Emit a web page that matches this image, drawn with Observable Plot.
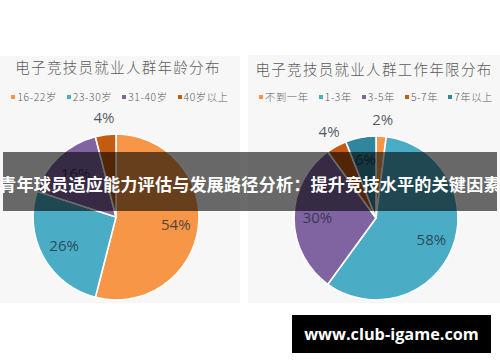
<!DOCTYPE html>
<html><head><meta charset="utf-8">
<script src="https://cdn.jsdelivr.net/npm/d3@7"></script>
<script src="https://cdn.jsdelivr.net/npm/@observablehq/plot@0.6"></script>
<style>
html,body{margin:0;padding:0;background:#fff;}
#page{position:relative;width:500px;height:362px;overflow:hidden;font-family:"Noto Sans CJK SC","Noto Sans",sans-serif;}
.panel{position:absolute;background:#f7f7f7;}
.title{position:absolute;text-align:center;font-size:14.5px;letter-spacing:1.3px;color:#5c5c5c;font-weight:300;line-height:20px;white-space:nowrap;}
.legend{position:absolute;display:flex;justify-content:center;align-items:center;gap:10px;font-size:10.3px;letter-spacing:0.6px;color:#5c5c5c;line-height:14px;white-space:nowrap;font-weight:300;}
.legend .sw{display:inline-block;width:4px;height:4px;margin-right:2px;vertical-align:middle;position:relative;top:-1px;}
.pie{position:absolute;}
.pie svg{overflow:visible;}
#banner{position:absolute;left:3px;top:152px;width:494px;height:59px;background:rgba(0,0,0,0.58);color:#fff;font-weight:700;font-size:17.1px;letter-spacing:0.2px;display:flex;align-items:center;justify-content:center;padding-top:4px;box-sizing:border-box;white-space:nowrap;font-family:"Noto Sans CJK SC",sans-serif;}
#mark{position:absolute;left:292px;top:315px;width:199px;height:38px;background:#000;color:#fff;font-weight:700;font-size:16.3px;display:flex;align-items:center;justify-content:center;font-family:"Open Sans",sans-serif;}
</style>
</head><body>
<div id="page">
  <div class="panel" style="left:0;top:56px;width:240px;height:247px"></div>
  <div class="panel" style="left:248px;top:55px;width:252px;height:248px"></div>
  <div class="title" id="t1" style="left:0;width:236px;top:57px"></div>
  <div class="title" id="t2" style="left:248px;width:252px;top:59px"></div>
  <div class="legend" id="l1" style="left:0;width:240px;top:90px"></div>
  <div class="legend" id="l2" style="left:252px;width:248px;top:90px"></div>
  <div class="pie" id="p1" style="left:0.5px;top:101.5px"></div>
  <div class="pie" id="p2" style="left:260.5px;top:103px"></div>
  <div id="banner"></div>
  <div id="mark"></div>
</div>
<script>
const title1 = "电子竞技员就业人群年龄分布";
const title2 = "电子竞技员就业人群工作年限分布";
const ageCategories = ["16-22岁", "23-30岁", "31-40岁", "40岁以上"];
const ageValues = [54, 26, 16, 4];
const ageColors = ["#F79646", "#4BACC6", "#8064A2", "#C55A11"];
const yearCategories = ["不到一年", "1-3年", "3-5年", "5-7年", "7年以上"];
const yearValues = [2, 58, 30, 4, 6];
const yearColors = ["#F79646", "#4BACC6", "#8064A2", "#C55A11", "#31859C"];
const bannerText = "青年球员适应能力评估与发展路径分析：提升竞技水平的关键因素";
const watermarkText = "www.club-igame.com";

document.getElementById("t1").textContent = title1;
document.getElementById("t2").textContent = title2;
document.getElementById("banner").textContent = bannerText;
document.getElementById("mark").textContent = watermarkText;

function legend(el, cats, colors) {
  cats.forEach((c, i) => {
    const item = document.createElement("span");
    const sw = document.createElement("span");
    sw.className = "sw";
    sw.style.background = colors[i];
    item.appendChild(sw);
    item.appendChild(document.createTextNode(c));
    el.appendChild(item);
  });
}
legend(document.getElementById("l1"), ageCategories, ageColors);
legend(document.getElementById("l2"), yearCategories, yearColors);

function pie(categories, values, colors, R, size) {
  const half = size / 2;
  const color = Plot.scale({color: {type: "ordinal", domain: categories, range: colors}});
  const rows = categories.map((c, i) => ({category: c, value: values[i]}));
  const arcs = d3.pie().sort(null).value(d => d.value)(rows);
  const labels = arcs.map(a => {
    const mid = (a.startAngle + a.endAngle) / 2;
    const k = a.data.value < 5 ? 1.2 : 0.72;
    return {text: a.data.value + "%", x: Math.sin(mid) * k, y: Math.cos(mid) * k};
  });
  return Plot.plot({
    width: size, height: size, margin: 0,
    x: {domain: [-half / R, half / R], axis: null},
    y: {domain: [-half / R, half / R], axis: null},
    style: {background: "transparent", overflow: "visible"},
    marks: [
      (index, scales) => {
        const cx = scales.x(0), cy = scales.y(0), r = scales.x(1) - cx;
        const arc = d3.arc().innerRadius(0).outerRadius(r);
        const g = d3.create("svg:g").attr("transform", `translate(${cx},${cy})`);
        g.selectAll("path").data(arcs).join("path")
          .attr("d", arc)
          .attr("fill", d => color.apply(d.data.category))
          .attr("stroke", "#fff").attr("stroke-width", 1.6).attr("stroke-linejoin", "round");
        return g.node();
      },
      Plot.text(labels, {x: "x", y: "y", text: "text", fontSize: 15, fill: "#1e2b38", fillOpacity: 0.78, fontFamily: "Open Sans"})
    ]
  });
}
document.getElementById("p1").appendChild(pie(ageCategories, ageValues, ageColors, 83, 230));
document.getElementById("p2").appendChild(pie(yearCategories, yearValues, yearColors, 82, 230));
</script>
</body></html>
